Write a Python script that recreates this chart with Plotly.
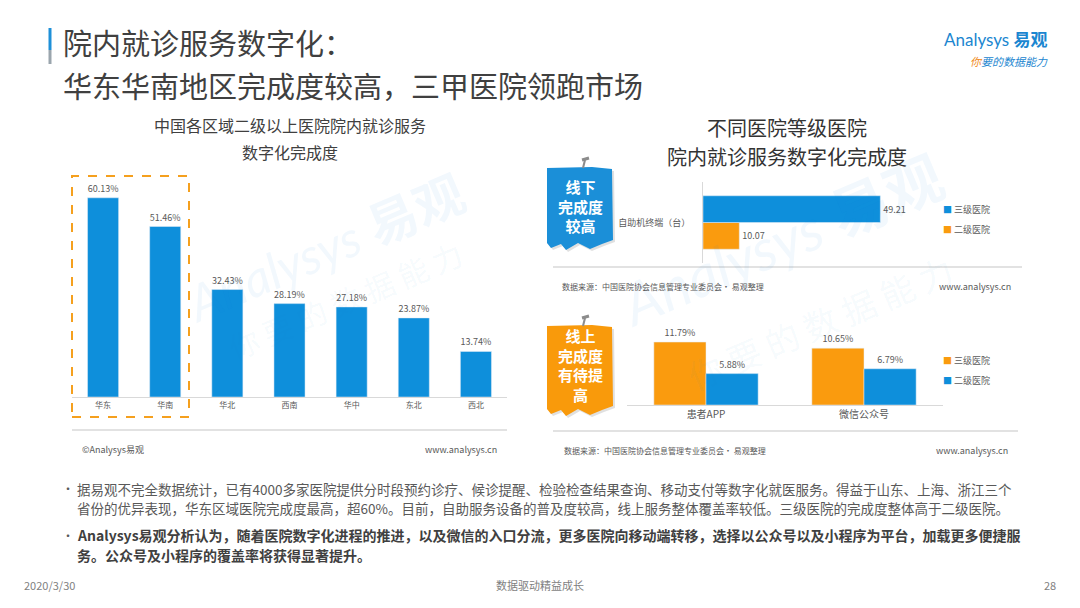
import plotly.graph_objects as go

# ---- data ----
regions = ['华东', '华南', '华北', '西南', '华中', '东北', '西北']
region_rate = [60.13, 51.46, 32.43, 28.19, 27.18, 23.87, 13.74]

kiosk_cat = ['自助机终端（台）']
kiosk_tier3 = [49.21]
kiosk_tier2 = [10.07]

online_cats = ['患者APP', '微信公众号']
online_tier3 = [11.79, 10.65]
online_tier2 = [5.88, 6.79]

W, H = 1080, 608
OFF = 8  # page body margin of the exported html
BLUE = '#0E8FDB'
ORANGE = '#FA9B0E'
TXT = '#595959'
FONT = 'Noto Sans CJK SC'


def px(x):
    return (x - OFF) / W


def py(y):
    return 1 - (y - OFF) / H


fig = go.Figure()

# left chart: regions
fig.add_trace(go.Bar(
    x=regions, y=region_rate, width=0.5, marker_color=BLUE,
    texttemplate='%{y:.2f}%', textposition='outside', cliponaxis=False,
    textfont=dict(size=9, color=TXT), showlegend=False,
    xaxis='x', yaxis='y'))

# top right: kiosks (first trace drawn at the bottom)
fig.add_trace(go.Bar(
    y=kiosk_cat, x=kiosk_tier2, orientation='h', name='二级医院',
    marker_color=ORANGE, texttemplate='%{x:.2f}', textposition='outside',
    cliponaxis=False, textfont=dict(size=9, color=TXT), showlegend=False,
    xaxis='x2', yaxis='y2'))
fig.add_trace(go.Bar(
    y=kiosk_cat, x=kiosk_tier3, orientation='h', name='三级医院',
    marker_color=BLUE, texttemplate='%{x:.2f}', textposition='outside',
    cliponaxis=False, textfont=dict(size=9, color=TXT), showlegend=False,
    xaxis='x2', yaxis='y2'))

# bottom right: online channels
fig.add_trace(go.Bar(
    x=online_cats, y=online_tier3, name='三级医院', marker_color=ORANGE,
    texttemplate='%{y:.2f}%', textposition='outside', cliponaxis=False,
    textfont=dict(size=9, color=TXT), showlegend=False,
    xaxis='x3', yaxis='y3'))
fig.add_trace(go.Bar(
    x=online_cats, y=online_tier2, name='二级医院', marker_color=BLUE,
    texttemplate='%{y:.2f}%', textposition='outside', cliponaxis=False,
    textfont=dict(size=9, color=TXT), showlegend=False,
    xaxis='x3', yaxis='y3'))

hidden = dict(visible=False, fixedrange=True)

fig.update_layout(
    width=W, height=H,
    margin=dict(l=0, r=0, t=0, b=0),
    paper_bgcolor='white', plot_bgcolor='rgba(0,0,0,0)',
    font=dict(family=FONT, color=TXT),
    barmode='group', bargap=0.34, bargroupgap=0,
    xaxis=dict(domain=[px(72), px(507)], showline=True, linecolor='#d9d9d9',
               ticks='', tickfont=dict(size=8, color=TXT), showgrid=False),
    yaxis=dict(domain=[py(397), py(180)], range=[0, 65.5], **hidden),
    xaxis2=dict(domain=[px(703), px(903)], range=[0, 55.5], anchor='y2', **hidden),
    yaxis2=dict(domain=[py(263), py(182)], anchor='x2', showline=True,
                linecolor='#d9d9d9', ticks='', showgrid=False,
                ticklabelstandoff=10, tickfont=dict(size=9, color=TXT)),
    xaxis3=dict(domain=[px(627), px(943)], anchor='y3', showline=True,
                linecolor='#d9d9d9', ticks='', showgrid=False,
                tickfont=dict(size=10, color=TXT)),
    yaxis3=dict(domain=[py(405), py(330)], range=[0, 14.05], anchor='x3', **hidden),
)


def box_path(x0, x1, y0, y1):
    # callout box with a wavy torn bottom edge
    pts = [(x0, y0 + 1), (x1 - 20, y0), (x1, y0 + 2), (x1 + 1, y1 - 6),
           (x1 - 10, y1 - 2), (x1 - 22, y1 + 3), (x1 - 34, y1 - 3),
           (x1 - 46, y1 + 4), (x0 + 14, y1 - 2), (x0 + 4, y1 + 2),
           (x0, y1 - 3)]
    s = 'M %f,%f ' % (px(pts[0][0]), py(pts[0][1]))
    for a, b in pts[1:]:
        s += 'L %f,%f ' % (px(a), py(b))
    return s + 'Z'


def hline(x0, x1, y, color='#d9d9d9', width=1.5):
    return dict(type='line', xref='paper', yref='paper', x0=px(x0), x1=px(x1),
                y0=py(y), y1=py(y), line=dict(color=color, width=width))


shapes = []
# header accent
shapes.append(dict(type='line', xref='paper', yref='paper', x0=px(50), x1=px(50),
                   y0=py(28), y1=py(50), line=dict(color='#1E90D8', width=3)))
shapes.append(dict(type='line', xref='paper', yref='paper', x0=px(50), x1=px(50),
                   y0=py(50), y1=py(64), line=dict(color='#9aa5ad', width=3)))
# orange dashed highlight
shapes.append(dict(type='rect', xref='paper', yref='paper', x0=px(72), x1=px(189),
                   y0=py(417), y1=py(176),
                   line=dict(color='#F5A01E', width=2, dash='dash')))
# separators
shapes += [hline(72, 507, 430), hline(553, 1022, 267), hline(553, 1018, 431)]
# callout boxes (shadow, box, pin)
for (x0, x1, y0, y1, col) in [(547, 612, 167, 246, '#1B8FD8'),
                              (547, 612, 325, 412, '#F99A0B')]:
    shapes.append(dict(type='path', xref='paper', yref='paper',
                       path=box_path(x0 + 2, x1 + 2, y0 + 2, y1 + 2),
                       fillcolor='rgba(0,0,0,0.12)', line=dict(width=0)))
    shapes.append(dict(type='path', xref='paper', yref='paper',
                       path=box_path(x0, x1, y0, y1), fillcolor=col,
                       line=dict(width=0)))
    shapes.append(dict(type='line', xref='paper', yref='paper',
                       x0=px(583), x1=px(585), y0=py(y0 + 1), y1=py(y0 - 7),
                       line=dict(color='#8c8c8c', width=2)))
    shapes.append(dict(type='line', xref='paper', yref='paper',
                       x0=px(582), x1=px(589), y0=py(y0 - 7), y1=py(y0 - 9),
                       line=dict(color='#8c8c8c', width=3)))
fig.update_layout(shapes=shapes)


def note(x, y, text, size=10, color=TXT, xanchor='center', yanchor='middle',
         family=FONT, **kw):
    fig.add_annotation(x=px(x), y=py(y), xref='paper', yref='paper', text=text,
                       showarrow=False, xanchor=xanchor, yanchor=yanchor,
                       font=dict(size=size, color=color, family=family), **kw)


# watermarks (one behind each chart area)
WM = 'rgba(20,130,210,0.055)'
for cx, cy, sz, cx2, cy2, sz2 in [(325, 248, 50, 345, 300, 30),
                                  (782, 240, 58, 820, 322, 34)]:
    note(cx, cy, '<i>Analysys</i> <b>易观</b>', size=sz, color=WM, textangle=-23,
         family='Lato, Noto Sans CJK SC')
    note(cx2, cy2, '你 要 的 数 据 能 力', size=sz2, color=WM, textangle=-23)

# header (two lines kept apart so their boxes do not touch)
note(62, 42, '院内就诊服务数字化：', size=29, color='#404040', xanchor='left',
     borderpad=0)
note(62, 85, '华东华南地区完成度较高，三甲医院领跑市场', size=29, color='#404040',
     xanchor='left', borderpad=0)
note(1050, 40, "Analysys <b>易观</b>", size=17, color='#1B86D0', xanchor='right',
     family='Lato, Noto Sans CJK SC')
note(1050, 61, "<i><span style='color:#F08A1C'>你</span>要的数据能力</i>", size=11,
     color='#1B86D0', xanchor='right')

# left chart texts
note(290, 125, '中国各区域二级以上医院院内就诊服务', size=16, color='#404040')
note(290, 152, '数字化完成度', size=16, color='#404040')
note(80, 449, '©Analysys易观', size=9, xanchor='left')
note(499, 449, 'www.analysys.cn', size=9, xanchor='right')

# right chart texts
note(787, 127, '不同医院等级医院', size=20, color='#333333')
note(787, 157, '院内就诊服务数字化完成度', size=20, color='#333333')
note(560, 287, '数据来源：中国医院协会信息管理专业委员会· 易观整理', size=8, xanchor='left')
note(1013, 287, 'www.analysys.cn', size=9, xanchor='right')
note(562, 451, '数据来源：中国医院协会信息管理专业委员会· 易观整理', size=8, xanchor='left')
note(1010, 451, 'www.analysys.cn', size=9, xanchor='right')

# legends
sq = "<span style='color:%s'>■</span> %s"
note(941, 209, sq % (BLUE, '三级医院'), size=9, xanchor='left')
note(941, 229, sq % (ORANGE, '二级医院'), size=9, xanchor='left')
note(941, 360, sq % (ORANGE, '三级医院'), size=9, xanchor='left')
note(941, 380, sq % (BLUE, '二级医院'), size=9, xanchor='left')

# callout texts
note(580, 206, '<b>线下<br>完成度<br>较高</b>', size=15, color='white')
note(580, 365, '<b>线上<br>完成度<br>有待提<br>高</b>', size=15, color='white')

# bullets
note(60, 489, '•', size=12, xanchor='left')
note(75, 489, '据易观不完全数据统计，已有4000多家医院提供分时段预约诊疗、候诊提醒、检验检查结果查询、移动支付等数字化就医服务。得益于山东、上海、浙江三个',
     size=13.5, xanchor='left')
note(75, 508, '省份的优异表现，华东区域医院完成度最高，超60%。目前，自助服务设备的普及度较高，线上服务整体覆盖率较低。三级医院的完成度整体高于二级医院。',
     size=13.5, xanchor='left')
note(60, 535, '•', size=12, xanchor='left')
note(75, 535, '<b>Analysys易观分析认为，随着医院数字化进程的推进，以及微信的入口分流，更多医院向移动端转移，选择以公众号以及小程序为平台，加载更多便捷服</b>',
     size=14, color='#404040', xanchor='left')
note(75, 555, '<b>务。公众号及小程序的覆盖率将获得显著提升。</b>', size=14,
     color='#404040', xanchor='left')

# footer
note(22, 585, '2020/3/30', size=11, color='#7f7f7f', xanchor='left')
note(540, 585, '数据驱动精益成长', size=11, color='#7f7f7f')
note(1058, 585, '28', size=11, color='#7f7f7f', xanchor='right')

fig.write_html("out.html")
